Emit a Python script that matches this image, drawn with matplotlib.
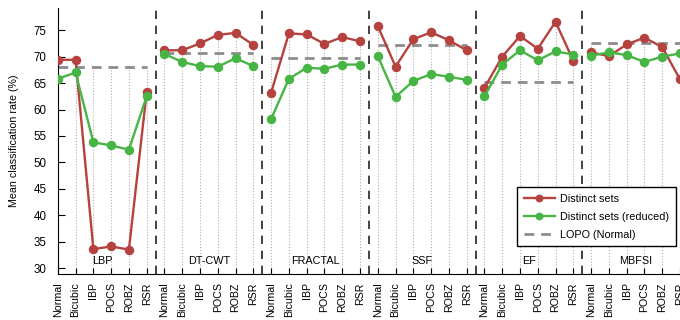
import numpy as np
import matplotlib
matplotlib.use('Agg')
import matplotlib.pyplot as plt

plt.rcParams['font.family'] = ['Liberation Sans', 'DejaVu Sans']

# datos
grupos = ['LBP', 'DT-CWT', 'FRACTAL', 'SSF', 'EF', 'MBFSI']
metodos = ['Normal', 'Bicubic', 'IBP', 'POCS', 'ROBZ', 'RSR']

distintos = [69.4, 69.4, 33.6, 34.1, 33.5, 63.3,
             71.2, 71.2, 72.5, 74.1, 74.5, 72.2,
             63.2, 74.4, 74.2, 72.4, 73.7, 72.9,
             75.8, 68.1, 73.3, 74.6, 73.1, 71.2,
             64.1, 70.0, 73.9, 71.5, 76.6, 69.2,
             70.8, 70.1, 72.3, 73.6, 71.8, 65.7]

reducidos = [65.8, 67.0, 53.8, 53.2, 52.4, 62.5,
             70.5, 69.0, 68.2, 68.1, 69.7, 68.2,
             58.2, 65.8, 67.9, 67.7, 68.5, 68.5,
             70.1, 62.4, 65.4, 66.7, 66.2, 65.6,
             62.5, 68.5, 71.2, 69.3, 71.0, 70.4,
             70.2, 70.8, 70.3, 69.0, 70.0, 70.6]

lopo = [68.0, 70.6, 69.8, 72.2, 65.2, 72.5]

rojo = '#b5423f'
verde = '#46b544'
gris = '#8c8c8c'

n = len(metodos)
x = np.arange(len(grupos) * n)
ymin, ymax = 28.9, 79.2

fig = plt.figure(figsize=(6.8, 3.2), dpi=100)
ax = fig.add_axes([0.085, 0.144, 0.915, 0.831])

# lineas punteadas verticales hasta el maximo de cada posicion
for i in x:
    tope = max(distintos[i], reducidos[i], lopo[i // n])
    ax.plot([i, i], [ymin, tope], ls=':', color='#b0b0b0', lw=0.8, zorder=1)

# separadores de grupos
for g in range(1, len(grupos)):
    ax.axvline(g * n - 0.5, color='#222222', ls=(0, (5, 4)), lw=1.2, zorder=1)

# LOPO por grupo
for g, val in enumerate(lopo):
    ax.plot([g * n, g * n + n - 1], [val, val], ls=(0, (3.5, 2.5)), color=gris, lw=2.0,
            zorder=2, label='LOPO (Normal)' if g == 0 else None)

for g in range(len(grupos)):
    sl = slice(g * n, g * n + n)
    ax.plot(x[sl], distintos[sl], '-o', color=rojo, lw=1.7, ms=5.8, zorder=3,
            label='Distinct sets' if g == 0 else None)
    ax.plot(x[sl], reducidos[sl], '-o', color=verde, lw=1.7, ms=5.8, zorder=4,
            label='Distinct sets (reduced)' if g == 0 else None)
    ax.text(g * n + 2.5, 31.4, grupos[g], ha='center', va='center', fontsize=7.8, zorder=5)

ax.set_xlim(0, len(x) - 1)
ax.set_ylim(ymin, ymax)
ax.set_yticks(np.arange(30, 76, 5))
ax.set_xticks(x)
ax.set_xticklabels(metodos * len(grupos), rotation=90, fontsize=7.7)
ax.tick_params(axis='y', direction='in', length=5, labelsize=8.3, pad=8)
ax.tick_params(axis='x', direction='in', length=4, pad=6)
ax.set_ylabel('Mean classification rate (%)', fontsize=7.7)
ax.yaxis.set_label_coords(-0.062, 0.5)
ax.spines['top'].set_visible(False)
ax.spines['right'].set_visible(False)

h, l = ax.get_legend_handles_labels()
orden = [l.index('Distinct sets'), l.index('Distinct sets (reduced)'), l.index('LOPO (Normal)')]
leg = ax.legend([h[k] for k in orden], [l[k] for k in orden], loc='upper left',
                bbox_to_anchor=(517 / 680, 1 - 187 / 320), bbox_transform=fig.transFigure,
                fontsize=7.8, fancybox=False, framealpha=1, edgecolor='black',
                markerscale=0.8, handlelength=2.9, handletextpad=0.5, borderpad=0.6,
                labelspacing=0.75, borderaxespad=0)
leg.get_frame().set_linewidth(1.0)

plt.savefig('out.png', dpi=100)
